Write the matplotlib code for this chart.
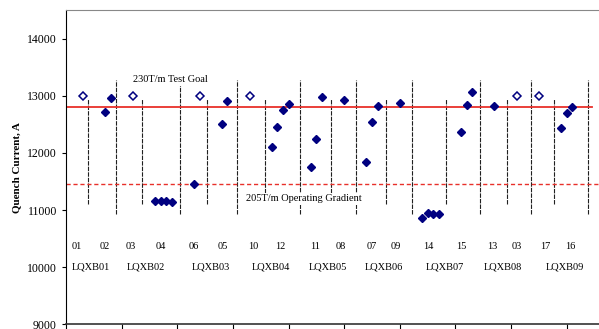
import matplotlib
matplotlib.use("Agg")
import matplotlib.pyplot as plt

plt.rcParams['font.family'] = ['Liberation Serif', 'DejaVu Serif']

# Quench sequence index (tick = 10 quenches) and current reached
quench_idx = [3, 7, 8, 12, 16, 17, 18, 19, 23, 24, 28, 29, 33, 37, 38, 39, 40,
              44, 45, 46, 50, 54, 55, 56, 60, 64, 65, 66, 67, 71, 72, 73, 77,
              81, 85, 89, 90, 91]
quench_current = [13000, 12715, 12960, 13000, 11160, 11160, 11150, 11145,
                  11450, 13000, 12500, 12905, 13000, 12100, 12450, 12750, 12850,
                  11755, 12240, 12975, 12920, 11835, 12540, 12820, 12865,
                  10865, 10950, 10935, 10935, 12365, 12830, 13070, 12815,
                  13000, 13000, 12430, 12700, 12800]
# True where the magnet reached the current without quenching
no_quench = [True, False, False, True, False, False, False, False,
             False, True, False, False, True, False, False, False, False,
             False, False, False, False, False, False, False, False,
             False, False, False, False, False, False, False, False,
             True, True, False, False, False]

# Cold mass numbers and their positions
mqxb_labels = ['01', '02', '03', '04', '06', '05', '10', '12', '11', '08',
               '07', '09', '14', '15', '13', '03', '17', '16']
mqxb_pos = [2.0, 6.9, 11.7, 17.1, 23.0, 28.1, 33.7, 38.6, 44.8, 49.3,
            55.0, 59.2, 65.2, 71.1, 76.7, 81.0, 86.2, 90.6]
# Cryoassembly names and their positions
lqxb_labels = ['LQXB01', 'LQXB02', 'LQXB03', 'LQXB04', 'LQXB05', 'LQXB06',
               'LQXB07', 'LQXB08', 'LQXB09']
lqxb_pos = [4.5, 14.4, 26.0, 36.9, 47.0, 57.1, 68.1, 78.5, 89.7]

# Separators between cold masses (short) and cryoassemblies (tall)
short_sep = [4.0, 13.6, 25.4, 35.7, 47.7, 57.6, 68.3, 79.2, 87.8]
tall_sep = [8.9, 20.45, 30.7, 42.0, 52.1, 62.1, 74.5, 83.5, 93.8]

test_goal = 12810
operating = 11450

fig = plt.figure(figsize=(5.99, 3.29), dpi=100)
ax = fig.add_axes([66 / 599, 4.7 / 329, 533 / 599, 314.3 / 329])

navy = '#000080'
ax.vlines(tall_sep, 10935, 13270, colors='#202020', linewidth=0.8,
          linestyles=(0, (4, 1)), zorder=1)
ax.vlines(short_sep, 11100, 12950, colors='#202020', linewidth=0.8,
          linestyles=(0, (4, 1)), zorder=1)

ax.plot([0, 94.5], [test_goal, test_goal], color='#e8302a', linewidth=1.3, zorder=2)
ax.plot([0, 96], [operating, operating], color='#e8302a', linewidth=1.0,
        linestyle=(0, (3, 2)), zorder=2)

xf = [x for x, n in zip(quench_idx, no_quench) if not n]
yf = [y for y, n in zip(quench_current, no_quench) if not n]
xo = [x for x, n in zip(quench_idx, no_quench) if n]
yo = [y for y, n in zip(quench_current, no_quench) if n]
ax.plot(xf, yf, linestyle='none', marker='D', markersize=4.4, color=navy,
        markeredgecolor=navy, zorder=4)
ax.plot(xo, yo, linestyle='none', marker='D', markersize=4.2,
        markerfacecolor='white', markeredgecolor=navy, markeredgewidth=1.1, zorder=4)

box = dict(facecolor='white', edgecolor='none', pad=1.2)
ax.text(18.8, 13285, '230T/m Test Goal', fontsize=7.5, ha='center', va='center',
        bbox=box, zorder=3)
ax.text(42.7, 11194, '205T/m Operating Gradient', fontsize=7.5, ha='center',
        va='center', bbox=box, zorder=3)

for lab, x in zip(mqxb_labels, mqxb_pos):
    ax.text(x, 10365, lab, fontsize=7.5, ha='center', va='center')
for lab, x in zip(lqxb_labels, lqxb_pos):
    ax.text(x, 10000, lab, fontsize=7.5, ha='center', va='center')

ax.set_xlim(0, 95.8)
ax.set_ylim(9000, 14500)
ax.set_xticks(range(0, 100, 10))
ax.set_xticklabels([])
ax.set_yticks(range(9000, 14001, 1000))
ax.tick_params(axis='y', direction='out', length=3, labelsize=8.5, width=0.8)
ax.tick_params(axis='x', direction='out', length=4, width=0.8)
ax.set_ylabel('Quench Current, A', fontsize=8, fontweight='bold', labelpad=4)

ax.spines['right'].set_visible(False)
ax.spines['top'].set_color('#888888')
ax.spines['left'].set_color('black')
ax.spines['bottom'].set_color('#333333')
ax.spines['bottom'].set_linewidth(1.2)

fig.savefig('out.png', dpi=100)
